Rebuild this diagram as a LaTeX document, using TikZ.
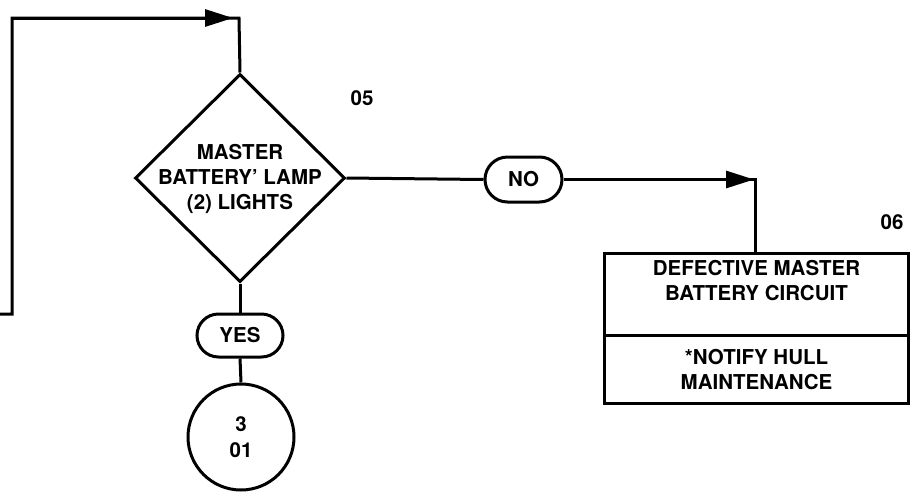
\documentclass[tikz,border=0pt]{standalone}
\usepackage{fontspec}
\setmainfont{TeX Gyre Heros}
\usetikzlibrary{shapes.geometric,shapes.misc,arrows.meta}
\begin{document}
\begin{tikzpicture}[x=1pt,y=-1pt,
  ln/.style={line width=3pt, line join=miter},
  fnt/.style={font=\fontsize{20.5}{25}\selectfont\bfseries},
  txt/.style={fnt, align=center, inner sep=0pt},
  tipa/.style={ln, -{Triangle[length=28pt,width=17pt]}},
  pill/.style={ln, draw, rounded rectangle, inner sep=0pt, fnt},
  boxpart/.style={minimum width=303pt, inner sep=0pt, align=center, fnt}]
\useasboundingbox (0,0) rectangle (919,491);

% decision diamond
\node[ln, draw, diamond, minimum width=210pt, minimum height=208pt, inner sep=0pt] (d) at (240,178) {};
\node[txt] (dtext) at (240,179) {MASTER\\BATTERY' LAMP\\(2) LIGHTS};
\node[txt] (n05) at (362,98) {05};

% answers
\node[pill, minimum width=86pt, minimum height=43pt] (yes) at (240,335.5) {YES};
\node[pill, minimum width=77pt, minimum height=45pt] (no) at (523.5,179.5) {NO};

% off-page connector
\node[ln, draw, circle, minimum size=106pt, inner sep=0pt, align=center, fnt, font=\fontsize{20.5}{26}\selectfont\bfseries] (conn) at (241,437) {3\\01};

% result box
\node[boxpart, minimum height=82pt] (boxtop) at (756.5,294.5) {DEFECTIVE MASTER\\BATTERY CIRCUIT\\[4pt]};
\node[boxpart, minimum height=67pt, anchor=north] (boxbot) at (boxtop.south) {*NOTIFY HULL\\MAINTENANCE};
\draw[ln] (boxtop.north west) rectangle (boxbot.south east);
\draw[ln] (boxtop.south west) -- (boxtop.south east);
\node[txt] (n06) at (892,222) {06};

% connectors
\coordinate (entry) at (0,314);
\coordinate (c1) at (12,314);
\coordinate (c2) at (12,18);
\coordinate (c3) at (239,18);
\draw[ln] (entry) -- (c1) -- (c2) -- (c3) -- (d.north);
\draw[tipa] (c2) -- ([xshift=-6pt]c3);

\draw[ln] (d.south) -- (yes.north);
\draw[ln] (yes.south) -- (conn.north);

\draw[ln] (d.east) -- (no.west);
\coordinate (c4) at (755,179.5);
\draw[ln] (no.east) -- (c4) -- (c4 |- boxtop.north);
\draw[tipa] (no.east) -- ([xshift=-1pt]c4);
\end{tikzpicture}
\end{document}
